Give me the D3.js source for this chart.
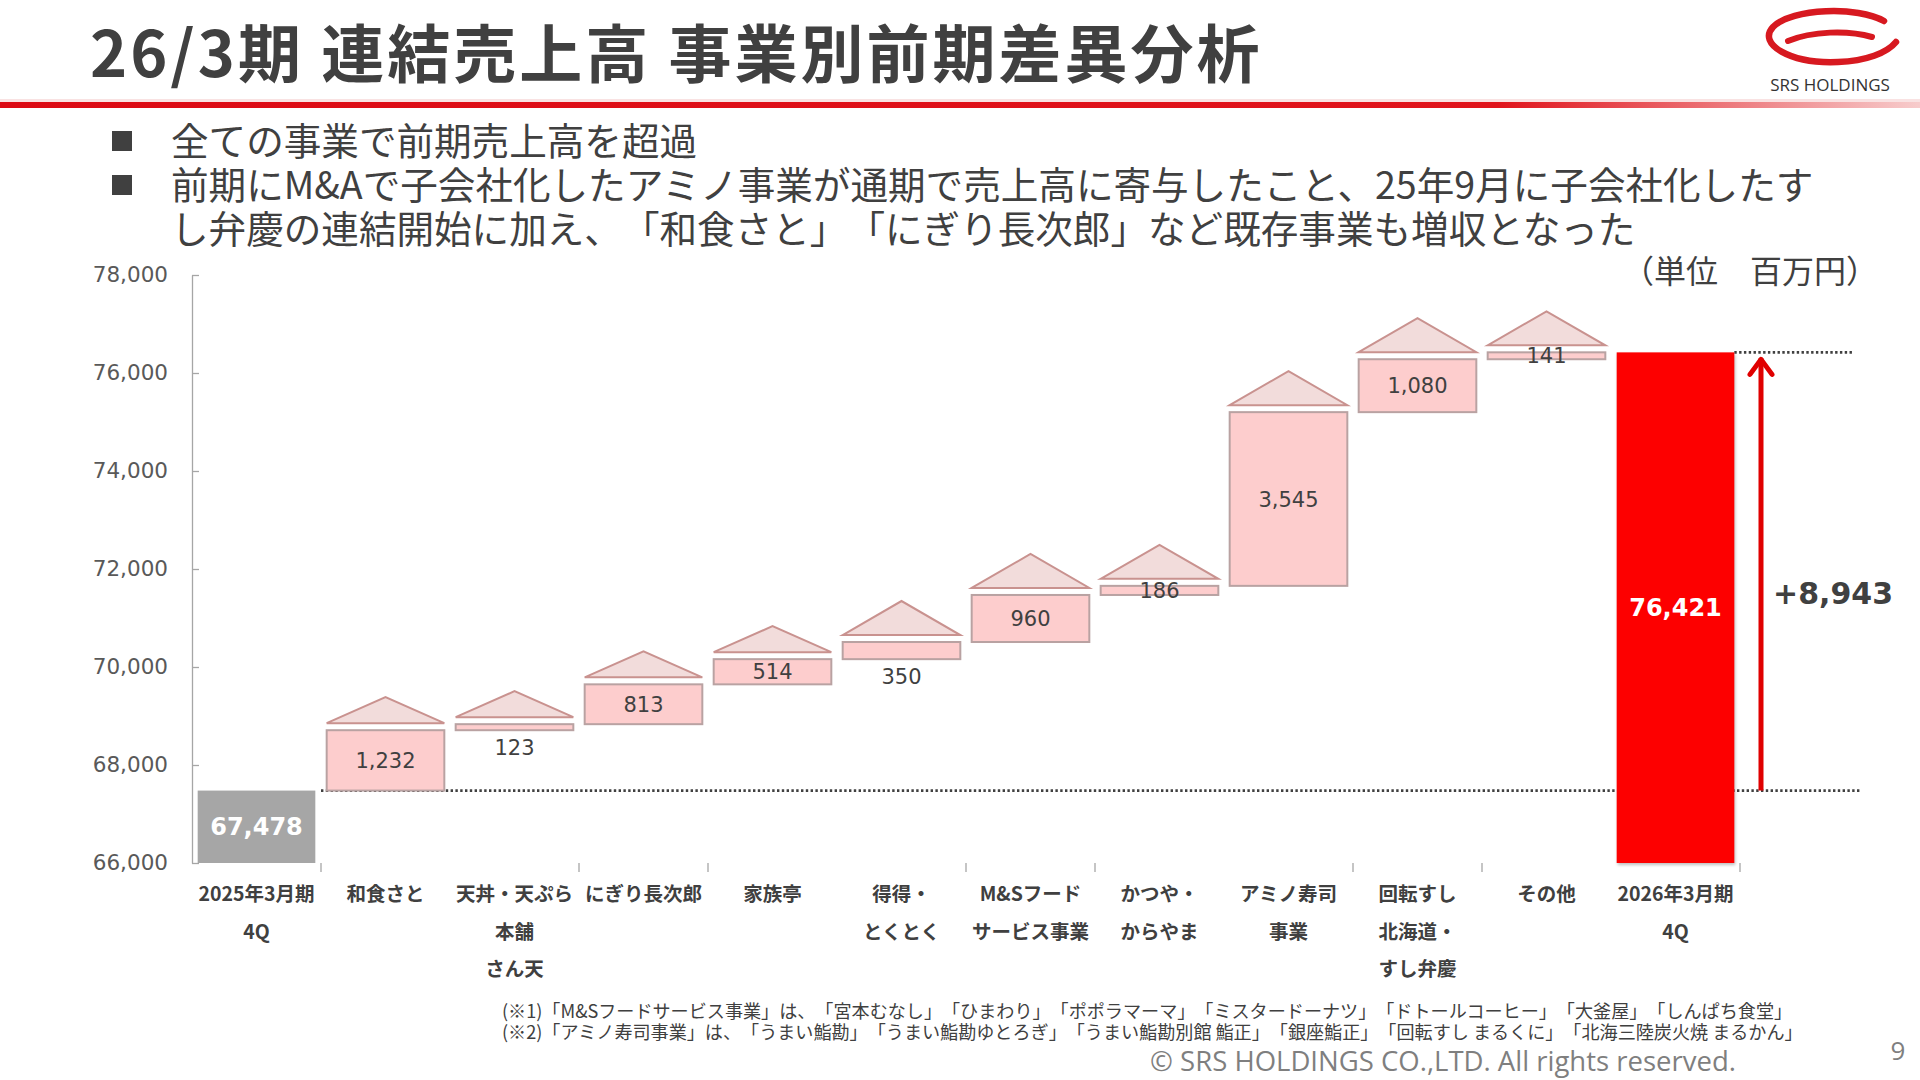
<!DOCTYPE html>
<html lang="ja">
<head>
<meta charset="utf-8">
<script src="https://cdn.jsdelivr.net/npm/d3@7"></script>
<style>
  body { margin: 0; background: #fff; }
  svg { display: block; }
  svg text { text-spacing-trim: space-all; }
</style>
</head>
<body>
<svg id="slide" width="1920" height="1080"></svg>
<script>
"use strict";

// chart frame
const chartLeft = 192;
const chartRight = 1740;
const chartTop = 275;
const chartBottom = 863;

const titleText = "26/3期 連結売上高 事業別前期差異分析";
const bulletLines = [
    ["全ての事業で前期売上高を超過"],
    ["前期にM&Aで子会社化したアミノ事業が通期で売上高に寄与したこと、25年9月に子会社化したす",
     "し弁慶の連結開始に加え、「和食さと」「にぎり長次郎」など既存事業も増収となった"]
];
const unitLabel = "（単位　百万円）";

const categories = [
    ["2025年3月期", "4Q"],
    ["和食さと"],
    ["天丼・天ぷら", "本舗", "さん天"],
    ["にぎり長次郎"],
    ["家族亭"],
    ["得得・", "とくとく"],
    ["M&Sフード", "サービス事業"],
    ["かつや・", "からやま"],
    ["アミノ寿司", "事業"],
    ["回転すし", "北海道・", "すし弁慶"],
    ["その他"],
    ["2026年3月期", "4Q"]
];
const startValue = 67478;
const deltas = [1232, 123, 813, 514, 350, 960, 186, 3545, 1080, 141];
const endValue = 76421;
const changeLabel = "+8,943";
// delta bars whose value label sits under the bar
const labelsUnderBar = [1, 4];

const yTicks = [66000, 68000, 70000, 72000, 74000, 76000, 78000];

const footnotes = [
    "(※1)「M&Sフードサービス事業」は、「宮本むなし」「ひまわり」「ポポラマーマ」「ミスタードーナツ」「ドトールコーヒー」「大釜屋」「しんぱち食堂」",
    "(※2)「アミノ寿司事業」は、「うまい鮨勘」「うまい鮨勘ゆとろぎ」「うまい鮨勘別館 鮨正」「銀座鮨正」「回転すし まるくに」「北海三陸炭火焼 まるかん」"
];
const copyright = "© SRS HOLDINGS CO.,LTD. All rights reserved.";
const pageNumber = "9";

const jpFont = "'Noto Sans CJK JP', 'Noto Sans', sans-serif";
const numFont = "'DejaVu Sans', Verdana, sans-serif";
const textColor = "#404040";

window.addEventListener("load", init);

var xScale, yScale;

function drawHeader(svg) {
    const defs = svg.append("defs");
    const grad = defs.append("linearGradient").attr("id", "rule-grad");
    grad.append("stop").attr("offset", "0%").attr("stop-color", "#dc0a14");
    grad.append("stop").attr("offset", "78%").attr("stop-color", "#e0141c");
    grad.append("stop").attr("offset", "100%").attr("stop-color", "#f7cccc");

    svg.append("text")
        .attr("x", 90)
        .attr("y", 77)
        .attr("font-family", jpFont)
        .attr("font-weight", 700)
        .attr("font-size", 63)
        .attr("letter-spacing", 3)
        .attr("fill", textColor)
        .text(titleText);

    svg.append("rect")
        .attr("x", 0).attr("y", 99)
        .attr("width", 1920).attr("height", 4)
        .attr("fill", "#f6d6d6").attr("opacity", 0.7);
    svg.append("rect")
        .attr("x", 0).attr("y", 102)
        .attr("width", 1920).attr("height", 6)
        .attr("fill", "url(#rule-grad)");

    // logo
    const logo = svg.append("g");
    logo.append("path")
        .attr("d", "M1884,21 C1858,6 1792,8 1773,27 C1757,44 1790,64 1838,62 C1866,61 1887,53 1896,42")
        .attr("fill", "none").attr("stroke", "#d71920").attr("stroke-width", 6.5)
        .attr("stroke-linecap", "round");
    logo.append("path")
        .attr("d", "M1788,41 C1812,31 1848,30 1872,37")
        .attr("fill", "none").attr("stroke", "#d71920").attr("stroke-width", 6)
        .attr("stroke-linecap", "round");
    logo.append("text")
        .attr("x", 1830).attr("y", 91)
        .attr("text-anchor", "middle")
        .attr("font-family", "'Open Sans', sans-serif")
        .attr("font-size", 17)
        .attr("fill", "#333")
        .text("SRS HOLDINGS");
}

function drawBullets(svg) {
    let lineY = 141;
    bulletLines.forEach(function(lines) {
        svg.append("rect")
            .attr("x", 112).attr("y", lineY - 10)
            .attr("width", 20).attr("height", 20)
            .attr("fill", textColor);
        lines.forEach(function(line) {
            svg.append("text")
                .attr("x", 171)
                .attr("y", lineY)
                .attr("dy", "0.36em")
                .attr("font-family", jpFont)
                .attr("font-size", 37.6)
                .attr("fill", textColor)
                .text(line);
            lineY += 44;
        });
    });

    svg.append("text")
        .attr("x", 1878)
        .attr("y", 271)
        .attr("dy", "0.36em")
        .attr("text-anchor", "end")
        .attr("font-family", jpFont)
        .attr("font-size", 32)
        .attr("fill", textColor)
        .text(unitLabel);
}

function buildSteps() {
    let running = startValue;
    return deltas.map(function(d, i) {
        const step = {idx: i + 1, y0: running, y1: running + d, value: d};
        running += d;
        return step;
    });
}

function drawChart(svg) {
    xScale = d3.scaleBand()
        .domain(d3.range(categories.length))
        .range([chartLeft, chartRight])
        .paddingInner(0.088)
        .paddingOuter(0.044);
    yScale = d3.scaleLinear()
        .domain([66000, 78000])
        .range([chartBottom, chartTop]);

    const fmt = d3.format(",");
    const steps = buildSteps();
    const bw = xScale.bandwidth();

    // y axis, ticks pointing inward
    const yAxis = d3.axisLeft(yScale)
        .tickValues(yTicks)
        .tickFormat(fmt)
        .tickSizeInner(-7)
        .tickSizeOuter(0)
        .tickPadding(24);
    const gy = svg.append("g")
        .attr("transform", `translate(${chartLeft},0)`)
        .call(yAxis);
    gy.select(".domain").attr("stroke", "#a6a6a6").attr("stroke-width", 1.3);
    gy.selectAll(".tick line").attr("stroke", "#a6a6a6").attr("stroke-width", 1.3);
    gy.selectAll(".tick text")
        .attr("font-family", numFont)
        .attr("font-size", 21.5)
        .attr("fill", "#595959");

    // x ticks on category boundaries (every third one is skipped in the source)
    const half = xScale.step() * xScale.paddingInner() / 2;
    const bounds = d3.range(1, categories.length + 1)
        .filter(i => i % 3 !== 2)
        .map(i => xScale(i - 1) + bw + half);
    svg.append("g").selectAll("line")
        .data(bounds)
        .join("line")
        .attr("x1", d => d).attr("x2", d => d)
        .attr("y1", chartBottom).attr("y2", chartBottom + 9)
        .attr("stroke", "#a6a6a6").attr("stroke-width", 1.3);

    // reference dotted lines
    const yStart = yScale(startValue);
    const yEnd = yScale(endValue);
    svg.append("line")
        .attr("x1", xScale(0) + bw + half).attr("x2", 1861)
        .attr("y1", yStart).attr("y2", yStart)
        .attr("stroke", "#404040").attr("stroke-width", 2.6)
        .attr("stroke-dasharray", "2.4 2.4");
    svg.append("line")
        .attr("x1", xScale(categories.length - 1) + bw).attr("x2", 1852)
        .attr("y1", yEnd).attr("y2", yEnd)
        .attr("stroke", "#404040").attr("stroke-width", 2.6)
        .attr("stroke-dasharray", "2.4 2.4");

    // start bar
    svg.append("rect")
        .attr("x", xScale(0)).attr("width", bw)
        .attr("y", yStart).attr("height", chartBottom - yStart)
        .attr("fill", "#a6a6a6");
    svg.append("text")
        .attr("x", xScale(0) + bw / 2)
        .attr("y", (yStart + chartBottom) / 2)
        .attr("dy", "0.36em")
        .attr("text-anchor", "middle")
        .attr("font-family", numFont).attr("font-weight", 700)
        .attr("font-size", 24).attr("fill", "#fff")
        .text(fmt(startValue));

    // end bar
    const lastIdx = categories.length - 1;
    svg.append("rect")
        .attr("x", xScale(lastIdx)).attr("width", bw)
        .attr("y", yEnd).attr("height", chartBottom - yEnd)
        .attr("fill", "#fd0000")
        .style("filter", "drop-shadow(1px 2px 1.5px rgba(0,0,0,0.25))");
    svg.append("text")
        .attr("x", xScale(lastIdx) + bw / 2)
        .attr("y", (yEnd + chartBottom) / 2)
        .attr("dy", "0.36em")
        .attr("text-anchor", "middle")
        .attr("font-family", numFont).attr("font-weight", 700)
        .attr("font-size", 24).attr("fill", "#fff")
        .text(fmt(endValue));

    // delta bars with roof triangles (the first four roofs are drawn flatter)
    const gSteps = svg.append("g");
    gSteps.selectAll("path.roof")
        .data(steps)
        .join("path")
        .attr("class", "roof")
        .attr("d", function(s, i) {
            const x0 = xScale(s.idx);
            const base = yScale(s.y1) - 7;
            const h = i < 4 ? 26 : 34;
            return `M${x0},${base}L${x0 + bw / 2},${base - h}L${x0 + bw},${base}Z`;
        })
        .attr("fill", "#f2dcdb")
        .attr("stroke", "#c9928f")
        .attr("stroke-width", 2);
    gSteps.selectAll("rect.step")
        .data(steps)
        .join("rect")
        .attr("class", "step")
        .attr("x", s => xScale(s.idx))
        .attr("width", bw)
        .attr("y", s => yScale(s.y1))
        .attr("height", s => yScale(s.y0) - yScale(s.y1))
        .attr("fill", "#fdcdcd")
        .attr("stroke", "#b9a2a2")
        .attr("stroke-width", 2);
    gSteps.selectAll("text.val")
        .data(steps)
        .join("text")
        .attr("class", "val")
        .attr("x", s => xScale(s.idx) + bw / 2)
        .attr("y", function(s, i) {
            if (labelsUnderBar.includes(i)) return yScale(s.y0) + 17;
            return (yScale(s.y0) + yScale(s.y1)) / 2;
        })
        .attr("dy", "0.36em")
        .attr("text-anchor", "middle")
        .attr("font-family", numFont)
        .attr("font-size", 21)
        .attr("fill", textColor)
        .text(s => fmt(s.value));

    // category labels
    const gCat = svg.append("g");
    categories.forEach(function(lines, i) {
        lines.forEach(function(line, j) {
            gCat.append("text")
                .attr("x", xScale(i) + bw / 2)
                .attr("y", 894 + j * 37.5)
                .attr("dy", "0.36em")
                .attr("text-anchor", "middle")
                .attr("font-family", jpFont)
                .attr("font-weight", 700)
                .attr("font-size", 19.5)
                .attr("fill", textColor)
                .text(line);
        });
    });

    // change arrow
    const ax = chartRight + 21;
    svg.append("line")
        .attr("x1", ax).attr("x2", ax)
        .attr("y1", yStart).attr("y2", yEnd + 6)
        .attr("stroke", "#e00000").attr("stroke-width", 5);
    svg.append("path")
        .attr("d", `M${ax - 11},${yEnd + 22}L${ax},${yEnd + 7}L${ax + 11},${yEnd + 22}`)
        .attr("fill", "none")
        .attr("stroke", "#e00000").attr("stroke-width", 5)
        .attr("stroke-linecap", "round").attr("stroke-linejoin", "round");
    svg.append("text")
        .attr("x", ax + 12)
        .attr("y", (yStart + yEnd) / 2 + 22)
        .attr("dy", "0.36em")
        .attr("font-family", numFont).attr("font-weight", 700)
        .attr("font-size", 30)
        .attr("fill", textColor)
        .text(changeLabel);
}

function drawFooter(svg) {
    footnotes.forEach(function(line, i) {
        svg.append("text")
            .attr("x", 502)
            .attr("y", 1011 + i * 21)
            .attr("dy", "0.36em")
            .attr("font-family", jpFont)
            .attr("font-size", 18.1)
            .attr("fill", textColor)
            .text(line);
    });
    svg.append("text")
        .attr("x", 1736)
        .attr("y", 1061)
        .attr("dy", "0.36em")
        .attr("text-anchor", "end")
        .attr("font-family", "'Open Sans', sans-serif")
        .attr("font-size", 27.5)
        .attr("fill", "#7f7f7f")
        .text(copyright);
    svg.append("text")
        .attr("x", 1898)
        .attr("y", 1051)
        .attr("dy", "0.36em")
        .attr("text-anchor", "middle")
        .attr("font-family", "'Open Sans', sans-serif")
        .attr("font-size", 26)
        .attr("fill", "#7f7f7f")
        .text(pageNumber);
}

function init() {
    const svg = d3.select("svg#slide");
    drawHeader(svg);
    drawBullets(svg);
    drawChart(svg);
    drawFooter(svg);
}
</script>
</body>
</html>
